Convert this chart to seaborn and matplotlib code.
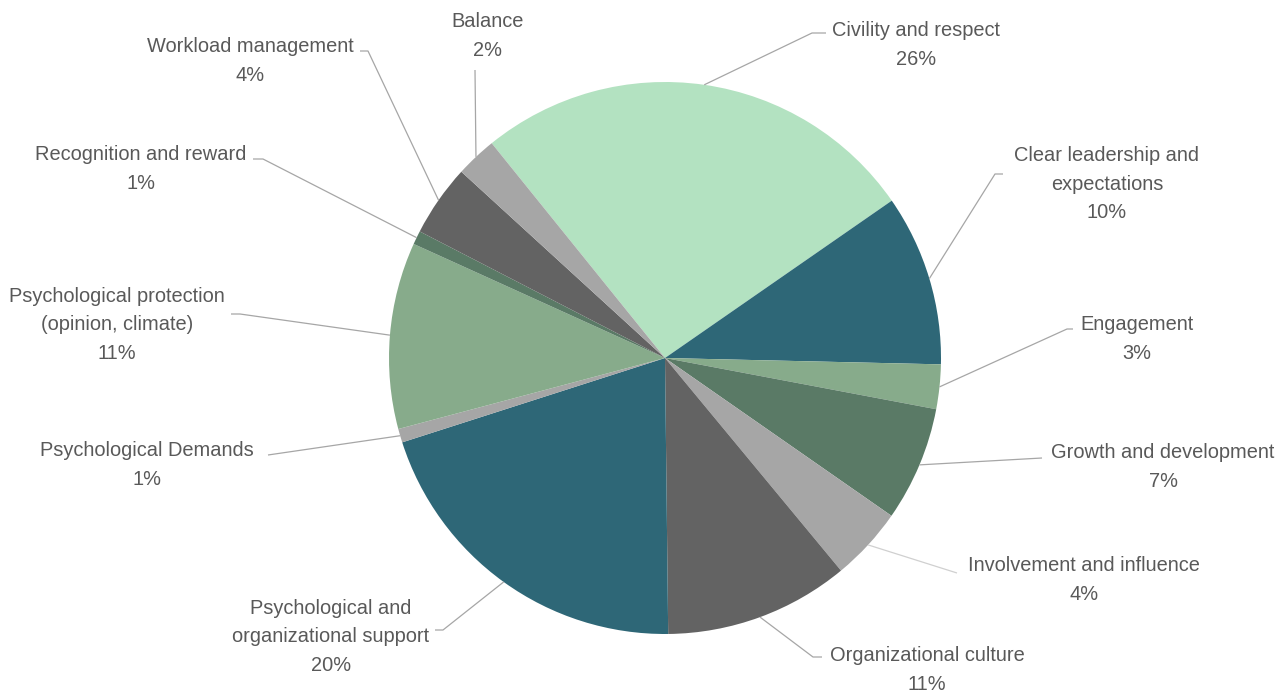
import matplotlib
matplotlib.use("Agg")
import matplotlib.pyplot as plt
import seaborn as sns
import numpy as np

# data (percent of responses)
factors = [
    "Civility and respect",
    "Clear leadership and\nexpectations",
    "Engagement",
    "Growth and development",
    "Involvement and influence",
    "Organizational culture",
    "Psychological and\norganizational support",
    "Psychological Demands",
    "Psychological protection\n(opinion, climate)",
    "Recognition and reward",
    "Workload management",
    "Balance",
]
shares = [26.1, 10.0, 2.6, 6.7, 4.3, 10.8, 20.2, 0.8, 10.9, 0.8, 4.2, 2.4]
slice_colors = ["#b3e2c1", "#2e6777", "#87ab8b", "#5a7a66", "#a6a6a6", "#636363",
                "#2e6777", "#a6a6a6", "#87ab8b", "#5a7a66", "#636363", "#a6a6a6"]

# label layout in pixels: text centre, then leader elbow / end points
label_pos = [(916, 45), (1107, 184), (1137, 339), (1163, 467), (1084, 580), (927, 670),
             (331, 637), (147, 465), (117, 325), (141, 169), (250, 61), (488, 36)]
leader_pts = [
    [(812, 33), (826, 33)],
    [(995, 174), (1003, 174)],
    [(1067, 329), (1073, 329)],
    [(1042, 458)],
    [(957, 573)],
    [(813, 657), (822, 657)],
    [(443, 630), (435, 630)],
    [(268, 455)],
    [(240, 314), (231, 314)],
    [(263, 159), (253, 159)],
    [(368, 51), (360, 51)],
    [(475, 70)],
]

W, H = 1286, 694
CX, CY, R = 665, 358, 276


def px(x, y):
    return (x - CX) / R, (CY - y) / R


sns.set_theme(style="white")
plt.rcParams['font.family'] = ['Liberation Sans', 'DejaVu Sans']

fig = plt.figure(figsize=(W / 100, H / 100), dpi=100)
ax = fig.add_axes([0, 0, 1, 1])

wedges, _ = ax.pie(shares, colors=slice_colors, startangle=128.9, counterclock=False,
                   radius=1, wedgeprops=dict(linewidth=0))
ax.set_aspect("auto")
ax.set_xlim(-CX / R, (W - CX) / R)
ax.set_ylim(-(H - CY) / R, CY / R)
ax.axis("off")

total = sum(shares)
for i, w in enumerate(wedges):
    mid = np.deg2rad((w.theta1 + w.theta2) / 2)
    xs = [np.cos(mid)] + [px(*p)[0] for p in leader_pts[i]]
    ys = [np.sin(mid)] + [px(*p)[1] for p in leader_pts[i]]
    lc = "#d0d0d0" if i == 4 else "#a6a6a6"
    ax.plot(xs, ys, color=lc, lw=0.9, solid_capstyle="butt")
    tx, ty = px(*label_pos[i])
    pct = shares[i] / total * 100
    ax.text(tx, ty, f"{factors[i]}\n{pct:.0f}%", ha="center", va="center",
            fontsize=14.4, color="#595959", linespacing=1.62)

fig.savefig("out.png", dpi=100)
